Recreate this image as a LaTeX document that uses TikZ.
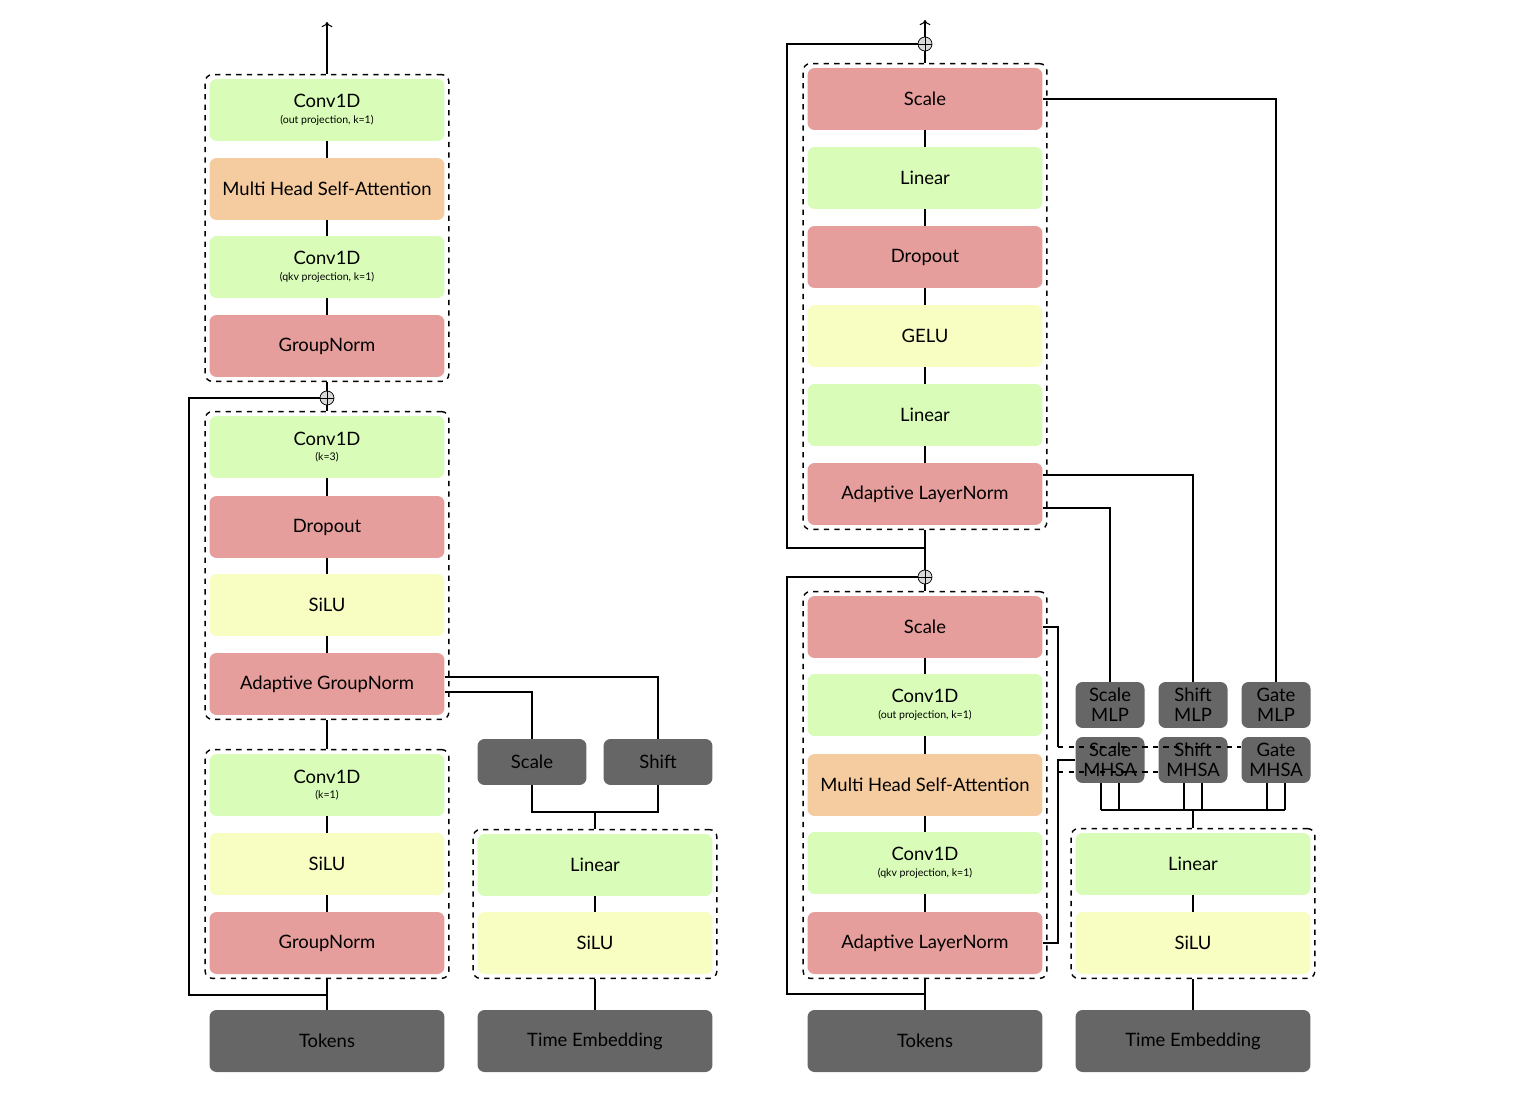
\documentclass[tikz,border=0pt]{standalone}
\usepackage{fontspec}
\setmainfont{Lato}
\usetikzlibrary{arrows.meta, calc, fit}
\definecolor{cgreen}{HTML}{D9FDB8}
\definecolor{cred}{HTML}{E69E9C}
\definecolor{corange}{HTML}{F5CBA0}
\definecolor{cyellow}{HTML}{F8FDC2}
\definecolor{cgray}{HTML}{666666}
\tikzset{
  blk/.style={rounded corners=4pt, minimum width=4.7cm, minimum height=1.24cm, align=center, font=\fontsize{10.5}{11}\selectfont, inner sep=0pt},
  green/.style={blk, fill=cgreen}, red/.style={blk, fill=cred},
  orange/.style={blk, fill=corange}, yellow/.style={blk, fill=cyellow},
  gray/.style={blk, fill=cgray},
  mod/.style={rounded corners=4pt, fill=cgray, minimum width=1.38cm, minimum height=0.92cm, align=center, inner sep=0pt, font=\fontsize{10.5}{11.5}\selectfont},
  grp/.style={draw, dashed, rounded corners=4pt, inner sep=0.08cm, thick},
  plus/.style={circle, draw, fill=gray!30, minimum size=0.28cm, inner sep=0pt,
    path picture={\draw (path picture bounding box.north)--(path picture bounding box.south)
      (path picture bounding box.west)--(path picture bounding box.east);}},
  link/.style={draw, semithick}
}
\newcommand{\sub}[1]{\\[-2pt]{\fontsize{6}{7}\selectfont #1}}
\begin{document}
\begin{tikzpicture}[x=0.02cm, y=-0.02cm]
\useasboundingbox (0,0) rectangle (1514,1104);
% left: UNet-style block
\node[green]  (lo)  at (327,110) {Conv1D\sub{(out projection, k=1)}};
\node[orange] (lm)  at (327,189) {Multi Head Self-Attention};
\node[green]  (lq)  at (327,267) {Conv1D\sub{(qkv projection, k=1)}};
\node[red]    (lg)  at (327,346) {GroupNorm};
\node[green]  (lc3) at (327,447) {Conv1D\sub{(k=3)}};
\node[red]    (ld)  at (327,527) {Dropout};
\node[yellow] (ls)  at (327,605) {SiLU};
\node[red]    (la)  at (327,684) {Adaptive GroupNorm};
\node[green]  (lc1) at (327,785) {Conv1D\sub{(k=1)}};
\node[yellow] (ls2) at (327,864) {SiLU};
\node[red]    (lg2) at (327,943) {GroupNorm};
\node[gray]   (lt)  at (327,1041) {Tokens};
\node[grp, fit=(lo)(lg)]   (g1) {};
\node[grp, fit=(lc3)(la)]  (g2) {};
\node[grp, fit=(lc1)(lg2)] (g3) {};
\node[plus] (lp) at (327,398) {};
\coordinate (ltop) at (327,22);
\coordinate (lres) at (189,995);
% left: time embedding
\node[green]  (tl) at (595,865) {Linear};
\node[yellow] (ts) at (595,943) {SiLU};
\node[gray]   (te) at (595,1041) {Time Embedding};
\node[grp, fit=(tl)(ts)] (g4) {};
\node[mod, minimum width=2.18cm] (tsc) at (532,762) {Scale};
\node[mod, minimum width=2.18cm] (tsh) at (658,762) {Shift};
\foreach \a/\b in {lo/lm, lm/lq, lq/lg, lc3/ld, ld/ls, ls/la, lc1/ls2, ls2/lg2, tl/ts}
  \draw[link] (\a) -- (\b);
\draw[link, ->] (g1.north) -- (ltop);
\draw[link] (g1.south) -- (lp) -- (g2.north);
\draw[link] (g2.south) -- (g3.north);
\draw[link] (lt) -- (g3.south);
\draw[link] (lt.north) |- (lres) |- (lp);
\draw[link] (te) -- (g4.south);
\draw[link] (la.east |- 0,677) -| (tsh);
\draw[link] (la.east |- 0,692) -| (tsc);
\draw[link] (tsc) |- (596,812) -| (g4.north);
\draw[link] (tsh) |- (596,812);
% right: DiT-style block
\node[red]    (rs)  at (925,99)  {Scale};
\node[green]  (rl)  at (925,178) {Linear};
\node[red]    (rd)  at (925,257) {Dropout};
\node[yellow] (rgl) at (925,336) {GELU};
\node[green]  (rl2) at (925,415) {Linear};
\node[red]    (ra)  at (925,494) {Adaptive LayerNorm};
\node[red]    (rs2) at (925,627) {Scale};
\node[green]  (ro)  at (925,705) {Conv1D\sub{(out projection, k=1)}};
\node[orange] (rm)  at (925,785) {Multi Head Self-Attention};
\node[green]  (rq)  at (925,863) {Conv1D\sub{(qkv projection, k=1)}};
\node[red]    (ra2) at (925,943) {Adaptive LayerNorm};
\node[gray]   (rt)  at (925,1041) {Tokens};
\node[grp, fit=(rs)(ra)]   (g5) {};
\node[grp, fit=(rs2)(ra2)] (g6) {};
\node[plus] (rp1) at (925,44) {};
\node[plus] (rp2) at (925,577) {};
\coordinate (rtop) at (925,20);
\coordinate (rr1) at (787,548);
\coordinate (rr2) at (787,994);
% right: time embedding and modulation
\node[green]  (rtl) at (1193,864) {Linear};
\node[yellow] (rts) at (1193,943) {SiLU};
\node[gray]   (rte) at (1193,1041) {Time Embedding};
\node[grp, fit=(rtl)(rts)] (g7) {};
\node[mod] (scm) at (1110,705) {Scale\\MLP};
\node[mod] (shm) at (1193,705) {Shift\\MLP};
\node[mod] (gtm) at (1276,705) {Gate\\MLP};
\node[mod] (sca) at (1110,760) {Scale\\MHSA};
\node[mod] (sha) at (1193,760) {Shift\\MHSA};
\node[mod] (gta) at (1276,760) {Gate\\MHSA};
\foreach \a/\b in {rs/rl, rl/rd, rd/rgl, rgl/rl2, rl2/ra, rs2/ro, ro/rm, rm/rq, rq/ra2, rtl/rts}
  \draw[link] (\a) -- (\b);
\draw[link, ->] (rp1) -- (rtop);
\draw[link] (g5.north) -- (rp1);
\draw[link] (g5.south) -- (rp2) -- (g6.north);
\draw[link] (rt) -- (g6.south);
\draw[link] (g5.south |- rr1) -| (787,44) -- (rp1);
\draw[link] (rt.north |- rr2) -| (787,577) -- (rp2);
\draw[link] (rte) -- (g7.south);
\draw[link] (rs) -| (gtm);
\draw[link] (ra.east |- 0,475) -| (shm);
\draw[link] (ra.east |- 0,508) -| (scm);
\draw[link] (rs2.east) -| (1058,747);
\draw[link, dashed] (1058,747) -- (gta.west |- 0,747);
\draw[link] (ra2.east) -| (1058,760) -- (sca.west);
\draw[link, dashed] (1058,772) -- (sha.west |- 0,772);
\foreach \m in {sca, sha, gta} {
  \draw[link] ($(\m.south)+(-9,0)$) -- ++(0,27);
  \draw[link] ($(\m.south)+(9,0)$) -- ++(0,27);
}
\draw[link] (1101,810) -- (1285,810);
\draw[link] (1193,810) -- (g7.north);
\end{tikzpicture}
\end{document}
